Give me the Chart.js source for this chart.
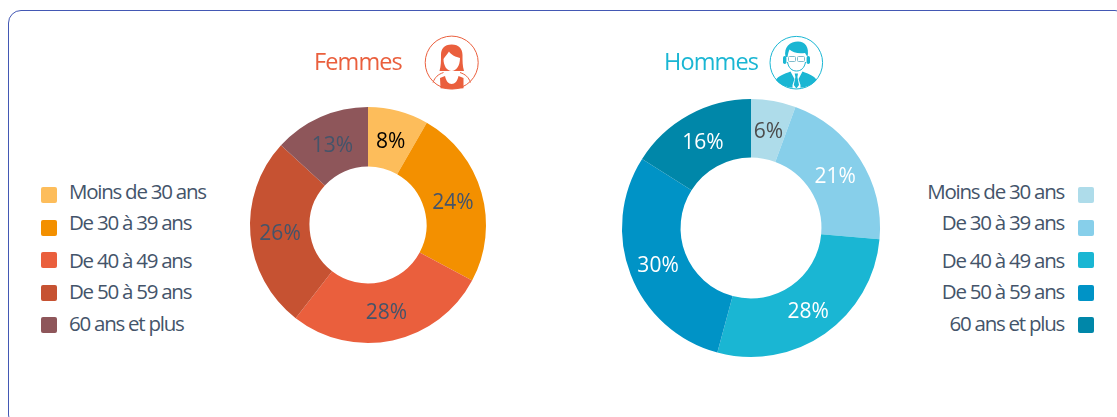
<!DOCTYPE html>
<html><head><meta charset="utf-8">
<script src="https://cdn.jsdelivr.net/npm/chart.js@4"></script>
<style>
html,body{margin:0;padding:0;background:#fff;overflow:hidden}
#page{position:relative;width:1117px;height:417px;overflow:hidden}
#frame{position:absolute;left:8px;top:9.5px;width:1118px;height:416px;border:1.5px solid #4358b4;border-radius:13px}
canvas{position:absolute}
.t{position:absolute;font-family:"Open Sans";white-space:nowrap}
.title{font-size:23.5px;letter-spacing:-0.9px;line-height:26px}
.lg{font-size:20.5px;letter-spacing:-1.25px;color:#44546a;line-height:24px}
.sw{position:absolute;width:16px;height:16px;border-radius:2px}
svg{position:absolute}
</style></head><body><div id="page"><div id="frame"></div>
<canvas id="c1" width="300" height="300" style="left:218px;top:75px;width:300px;height:300px"></canvas>
<canvas id="c2" width="300" height="300" style="left:601px;top:78px;width:300px;height:300px"></canvas>
<div class="t title" style="left:314px;top:48px;color:#ea5f3d">Femmes</div>
<div class="t title" style="left:664px;top:48px;color:#1ab6d3">Hommes</div>
<svg style="left:424px;top:35px" width="56" height="56" viewBox="0 0 56 56">
 <circle cx="27.7" cy="27.6" r="26.5" fill="#fff" stroke="#ea5f3d" stroke-width="1"/>
 <path d="M27.7 9.5 C20 9.5 17 14 17 20 C17 26 17 31 15.5 36 L40 36 C38.5 31 38.5 26 38.5 20 C38.5 14 35 9.5 27.7 9.5Z" fill="#ea5f3d"/>
 <path d="M19.5 24 C20.5 22 23 20 25 16.5 C27 20 32 22 36 23 C36 31 32 36 27.7 36 C23 36 19.5 31 19.5 24Z" fill="#fff"/>
 <path d="M16 43 L21 41 C22 46 24.5 49 27.7 49 C31 49 33.5 46 34.5 41 L39.5 43 L39.5 53.3 C32 54.3 24 54.3 16.5 53.3Z" fill="#ea5f3d"/>
 <path d="M9 47.5 C11 42 14 39.5 19.5 37.5" fill="none" stroke="#ea5f3d" stroke-width="1"/>
 <path d="M46.5 47.5 C44.5 42 41.5 39.5 36 37.5" fill="none" stroke="#ea5f3d" stroke-width="1"/>
</svg>
<svg style="left:768px;top:35px" width="56" height="56" viewBox="0 0 56 56">
 <circle cx="28.3" cy="27.7" r="26.3" fill="#fff" stroke="#1ab6d3" stroke-width="1"/>
 <path d="M17.5 22 C15.5 12 22 6.5 30 6.5 C37 6.5 41.5 12 39.5 22 L37 18 C30 19 24.5 17.5 21.5 14.5 C20.5 17 20 19 19.5 22Z" fill="#1ab6d3"/>
 <rect x="15" y="21" width="3.4" height="8" rx="1.7" fill="#1ab6d3"/>
 <rect x="38.6" y="21" width="3.4" height="8" rx="1.7" fill="#1ab6d3"/>
 <path d="M19.5 27 C20.5 33 24 36 28.5 36 C33 36 36.5 33 37.5 27" fill="none" stroke="#1ab6d3" stroke-width="1"/>
 <rect x="20.5" y="21.5" width="7" height="5" rx="1" fill="none" stroke="#7fbccc" stroke-width="1"/>
 <rect x="29.5" y="21.5" width="7" height="5" rx="1" fill="none" stroke="#7fbccc" stroke-width="1"/>
 <path d="M8 45 C10 41 16 39 22.5 36.5 L26.5 44 L24.5 50 L24.5 52.8 C18 52 12 50 8 45Z M48.5 45 C46.5 41 41 39 34.5 36.5 L30.5 44 L32.5 50 L32.5 52.8 C38.5 52 44.5 50 48.5 45Z" fill="#1ab6d3"/>
 <path d="M26.7 38.5 L30 38.5 L29.4 42 L31 50 L28.4 53.5 L25.8 50 L27.4 42Z" fill="#1ab6d3"/>
</svg>
<div id="legend"></div></div>
<script>
const categories=["Moins de 30 ans","De 30 à 39 ans","De 40 à 49 ans","De 50 à 59 ans","60 ans et plus"];
const femmes=[8.3,24.5,27.7,26.3,13.2];
const hommes=[5.6,20.8,27.8,29.8,16.0];
const femmesLabels=["8%","24%","28%","26%","13%"];
const hommesLabels=["6%","21%","28%","30%","16%"];
const femmesColors=["#fdbd5b","#f39000","#ea5f3d","#c65232","#8e565a"];
const hommesColors=["#aedcea","#87cfea","#1ab6d3","#0093c6","#0087a9"];
const femmesText=["#000000","#44546a","#44546a","#44546a","#44546a"];
const hommesText=["#4d4d4d","#ffffff","#ffffff","#ffffff","#ffffff"];
const swatchY=[195,228,260,293,325];
const textY=[191,222,260,291,323];
const lg=document.getElementById('legend');
categories.forEach((c,i)=>{
 lg.insertAdjacentHTML('beforeend',
 `<div class="sw" style="left:41px;top:${swatchY[i]-8}px;background:${femmesColors[i]}"></div>`+
 `<div class="t lg" style="left:69px;top:${textY[i]-12}px">${c}</div>`+
 `<div class="sw" style="left:1078px;top:${swatchY[i]-8}px;background:${hommesColors[i]}"></div>`+
 `<div class="t lg" style="right:53px;top:${textY[i]-12}px">${c}</div>`);
});
const labelPlugin={id:'sliceLabels',afterDatasetsDraw(chart,a,opts){
 const ctx=chart.ctx;ctx.save();
 ctx.font=opts.font;ctx.textAlign='center';ctx.textBaseline='middle';
 chart.getDatasetMeta(0).data.forEach((arc,i)=>{
  const p=arc.tooltipPosition();
  ctx.fillStyle=opts.colors[i];
  ctx.fillText(opts.labels[i],p.x,p.y+2);
 });
 ctx.restore();
}};
function donut(id,data,colors,labels,textColors,radius,inner){
 new Chart(document.getElementById(id),{
  type:'doughnut',
  data:{labels:categories,datasets:[{data,backgroundColor:colors,borderWidth:0,radius,cutout:inner}]},
  options:{responsive:false,animation:false,layout:{padding:0},
   plugins:{legend:{display:false},tooltip:{enabled:false},
    sliceLabels:{labels,colors:textColors,font:'21px "Open Sans"'}}},
  plugins:[labelPlugin]
 });
}
donut('c1',femmes,femmesColors,femmesLabels,femmesText,118,'49.6%');
donut('c2',hommes,hommesColors,hommesLabels,hommesText,129,'54.6%');
</script></body></html>
